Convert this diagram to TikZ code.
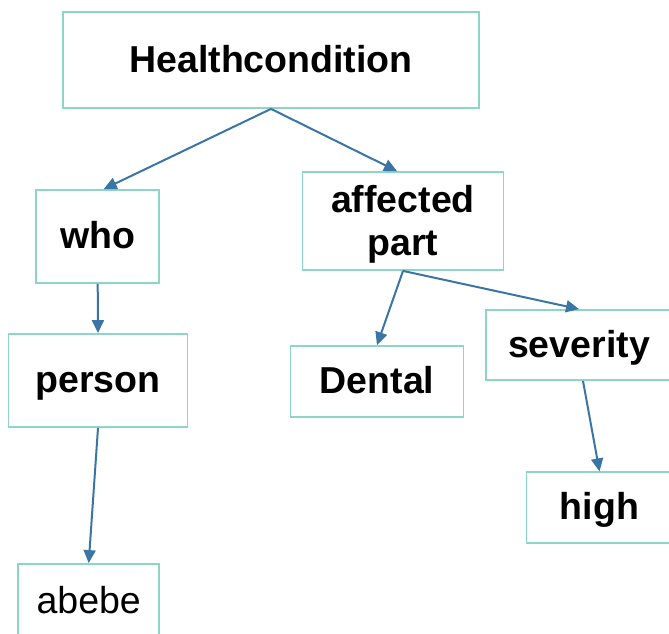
\documentclass[tikz,border=0pt]{standalone}
\usepackage{fontspec}
\setmainfont{Liberation Sans}
\usetikzlibrary{arrows.meta,calc}
\definecolor{boxline}{HTML}{8DD5C4}
\definecolor{arrowblue}{HTML}{3A75A6}
\tikzset{
  box/.style={draw=boxline, line width=1.8pt, fill=white, inner sep=0pt},
  label text/.style={font=\fontsize{37.5}{43.5}\selectfont\bfseries, align=center},
  onelinebox/.style={box, label text, text height=31pt, text depth=7pt},
  link/.style={draw=arrowblue, line width=2pt,
    -{Triangle[length=13pt,width=12pt]}}
}
\begin{document}
\begin{tikzpicture}[x=1pt,y=-1pt]
  \useasboundingbox (0,0) rectangle (669,634);
  \clip (0,0) rectangle (669,634);
  % boxes
  \node[onelinebox, minimum width=416pt, minimum height=96pt] (hc) at (271,60) {Healthcondition};
  \node[onelinebox, minimum width=123pt, minimum height=93pt] (who) at (97.7,236.5) {who};
  \node[box, minimum width=201pt, minimum height=98pt] (aff) at (403,221) {};
  \node[label text, inner sep=0pt] (afftext) at (403,224.5) {affected\\part};
  \node[onelinebox, minimum width=179pt, minimum height=93pt] (person) at (98,380.5) {person};
  \node[onelinebox, minimum width=173pt, minimum height=71pt] (dental) at (377,381.5) {Dental};
  \node[onelinebox, minimum width=186pt, minimum height=70pt] (sev) at (579,345) {severity};
  \node[onelinebox, minimum width=146pt, minimum height=71pt] (high) at (599.5,507.8) {high};
  \node[onelinebox, font=\fontsize{37.5}{43.5}\selectfont, minimum width=141pt, minimum height=74pt] (abebe) at (88.7,601) {abebe};
  % connectors
  \draw[link] (hc.south) -- ($(who.north)+(6,0)$);
  \draw[link] (hc.south) -- ($(aff.north)+(-6,0)$);
  \draw[link] (who.south) -- (person.north);
  \draw[link] (person.south) -- (abebe.north);
  \draw[link] (aff.south) -- (dental.north);
  \draw[link] (aff.south) -- (sev.north);
  \draw[link] ($(sev.south)+(4,0)$) -- (high.north);
\end{tikzpicture}
\end{document}
